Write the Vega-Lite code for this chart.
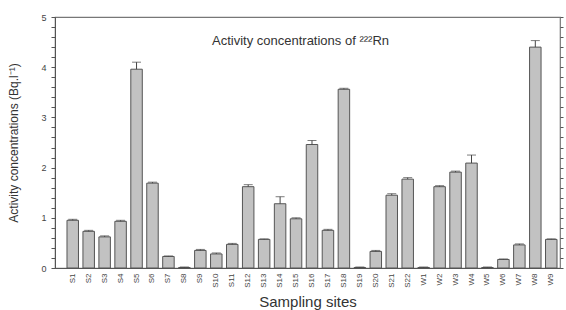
{
  "$schema": "https://vega.github.io/schema/vega-lite/v6.json",
  "width": 505,
  "height": 251,
  "autosize": {"type": "none"},
  "padding": {"left": 55, "top": 17, "right": 6, "bottom": 42},
  "background": "white",
  "config": {
    "view": {"stroke": "#777", "strokeWidth": 1.2},
    "font": "Liberation Sans",
    "axis": {"labelFont": "Liberation Sans", "titleFont": "Liberation Sans", "domainColor": "#555", "labelColor": "#444", "titleColor": "#333", "grid": false}
  },
  "title": {"text": "Activity concentrations of ²²²Rn", "orient": "top", "anchor": "middle", "offset": -35, "dx": -7, "fontSize": 13, "fontWeight": "normal", "color": "#333", "font": "Liberation Sans"},
  "data": {"values": [
    {"site": "S1", "value": 0.95, "hi": 0.97},
    {"site": "S2", "value": 0.73, "hi": 0.75},
    {"site": "S3", "value": 0.62, "hi": 0.64},
    {"site": "S4", "value": 0.93, "hi": 0.95},
    {"site": "S5", "value": 3.96, "hi": 4.1},
    {"site": "S6", "value": 1.69, "hi": 1.71},
    {"site": "S7", "value": 0.23, "hi": 0.24},
    {"site": "S8", "value": 0.01, "hi": 0.02},
    {"site": "S9", "value": 0.35, "hi": 0.37},
    {"site": "S10", "value": 0.28, "hi": 0.3},
    {"site": "S11", "value": 0.47, "hi": 0.49},
    {"site": "S12", "value": 1.62, "hi": 1.66},
    {"site": "S13", "value": 0.57, "hi": 0.58},
    {"site": "S14", "value": 1.28, "hi": 1.42},
    {"site": "S15", "value": 0.98, "hi": 1.0},
    {"site": "S16", "value": 2.46, "hi": 2.54},
    {"site": "S17", "value": 0.75, "hi": 0.77},
    {"site": "S18", "value": 3.56, "hi": 3.58},
    {"site": "S19", "value": 0.01, "hi": 0.02},
    {"site": "S20", "value": 0.33, "hi": 0.35},
    {"site": "S21", "value": 1.45, "hi": 1.48},
    {"site": "S22", "value": 1.77, "hi": 1.8},
    {"site": "W1", "value": 0.01, "hi": 0.02},
    {"site": "W2", "value": 1.62, "hi": 1.64},
    {"site": "W3", "value": 1.91, "hi": 1.93},
    {"site": "W4", "value": 2.09, "hi": 2.25},
    {"site": "W5", "value": 0.01, "hi": 0.02},
    {"site": "W6", "value": 0.17, "hi": 0.18},
    {"site": "W7", "value": 0.46, "hi": 0.48},
    {"site": "W8", "value": 4.4, "hi": 4.53},
    {"site": "W9", "value": 0.57, "hi": 0.58}
  ]},
  "encoding": {
    "x": {"field": "site", "type": "nominal", "sort": null,
      "scale": {"paddingInner": 0.28, "paddingOuter": 0.47, "align": 0.8},
      "axis": {"title": "Sampling sites", "labelAngle": -90, "labelFontSize": 8, "labelPadding": 5, "ticks": false, "titleFontSize": 15, "titleFontWeight": "normal", "titlePadding": 7}}
  },
  "resolve": {"axis": {"y": "independent"}},
  "layer": [
    {
      "mark": {"type": "bar", "fill": "#c2c2c2", "stroke": "#555", "strokeWidth": 1},
      "encoding": {
        "y": {"field": "value", "type": "quantitative",
          "scale": {"domain": [0, 5], "nice": false},
          "axis": {"title": "Activity concentrations (Bq.l⁻¹)", "values": [0, 0.2, 0.4, 0.6, 0.8, 1, 1.2, 1.4, 1.6, 1.8, 2, 2.2, 2.4, 2.6, 2.8, 3, 3.2, 3.4, 3.6, 3.8, 4, 4.2, 4.4, 4.6, 4.8, 5],
            "labelExpr": "datum.value % 1 == 0 ? format(datum.value, 'd') : ''",
            "ticks": true, "tickSize": 4, "tickColor": "#555", "tickWidth": 1,
            "labelPadding": 5, "labelFontSize": 9, "titleFontSize": 12, "titleFontWeight": "normal", "titlePadding": 20}}
      }
    },
    {
      "mark": {"type": "rule", "color": "#444", "strokeWidth": 1},
      "encoding": {"y": {"field": "value", "type": "quantitative",
        "axis": {"orient": "right", "title": null, "labels": false, "domain": false, "ticks": true, "tickColor": "#555", "tickWidth": 1, "values": [0, 0.2, 0.4, 0.6, 0.8, 1, 1.2, 1.4, 1.6, 1.8, 2, 2.2, 2.4, 2.6, 2.8, 3, 3.2, 3.4, 3.6, 3.8, 4, 4.2, 4.4, 4.6, 4.8, 5],
          "tickSize": 3}},
        "y2": {"field": "hi"}}
    },
    {
      "mark": {"type": "tick", "color": "#444", "thickness": 1, "size": 9},
      "encoding": {"y": {"field": "hi", "type": "quantitative", "axis": null}}
    }
  ]
}
